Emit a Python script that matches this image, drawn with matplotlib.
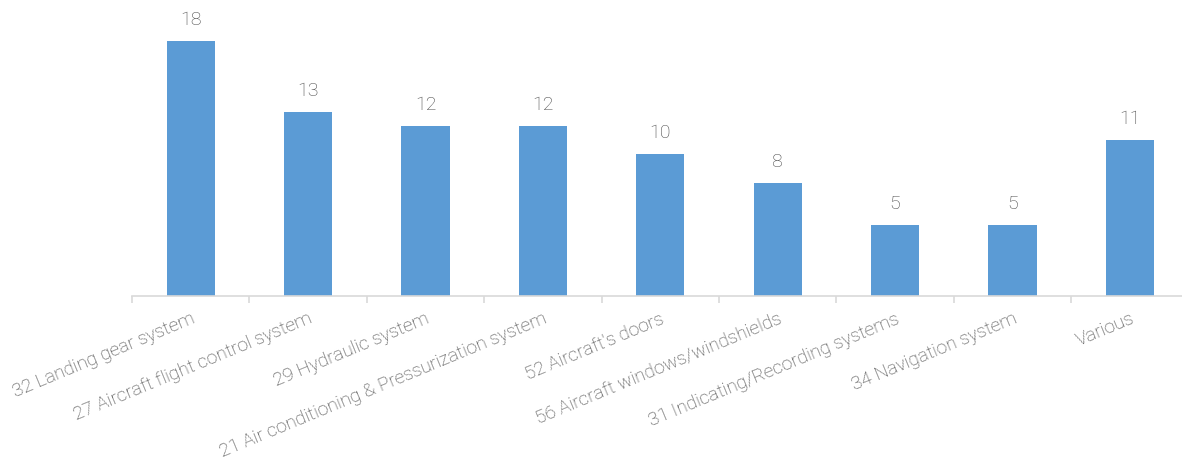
import matplotlib
matplotlib.use("Agg")
import matplotlib.pyplot as plt
import numpy as np

categories = [
    "32 Landing gear system",
    "27 Aircraft flight control system",
    "29 Hydraulic system",
    "21 Air conditioning & Pressurization system",
    "52 Aircraft's doors",
    "56 Aircraft windows/windshields",
    "31 Indicating/Recording systems",
    "34 Navigation system",
    "Various",
]
counts = [18, 13, 12, 12, 10, 8, 5, 5, 11]

BAR_COLOR = "#5B9BD5"
TEXT_COLOR = "#474747"
AXIS_COLOR = "#D9D9D9"

plt.rcParams["font.family"] = ["Roboto", "DejaVu Sans"]

W, H = 1182, 463
fig = plt.figure(figsize=(W / 100, H / 100), dpi=100)
ax = fig.add_axes([132 / W, (H - 296) / H, 1056.6 / W, 283.4 / H])

x = np.arange(len(categories))
bars = ax.bar(x, counts, width=0.41, color=BAR_COLOR, zorder=2)

for xi, v in zip(x, counts):
    ax.annotate(str(v), (xi, v), xytext=(0, 8.5), textcoords="offset points",
                ha="center", va="bottom", fontsize=14, color=TEXT_COLOR,
                fontweight="light")

ax.set_xlim(-0.5, len(categories) - 0.5)
ax.set_ylim(0, 20)

for s in ["top", "right", "left"]:
    ax.spines[s].set_visible(False)
ax.spines["bottom"].set_color(AXIS_COLOR)
ax.spines["bottom"].set_linewidth(1.2)
ax.set_yticks([])

ax.set_xticks(x)
ax.set_xticklabels(categories, rotation=22.5, ha="right", rotation_mode="anchor",
                   fontsize=13.6, color=TEXT_COLOR, fontweight="light")
ax.set_xticks(np.arange(len(categories) + 1) - 0.5, minor=True)
ax.tick_params(axis="x", which="major", length=0, pad=10)
ax.tick_params(axis="x", which="minor", length=5, color=AXIS_COLOR, width=1.2)

fig.savefig("out.png", dpi=100)
